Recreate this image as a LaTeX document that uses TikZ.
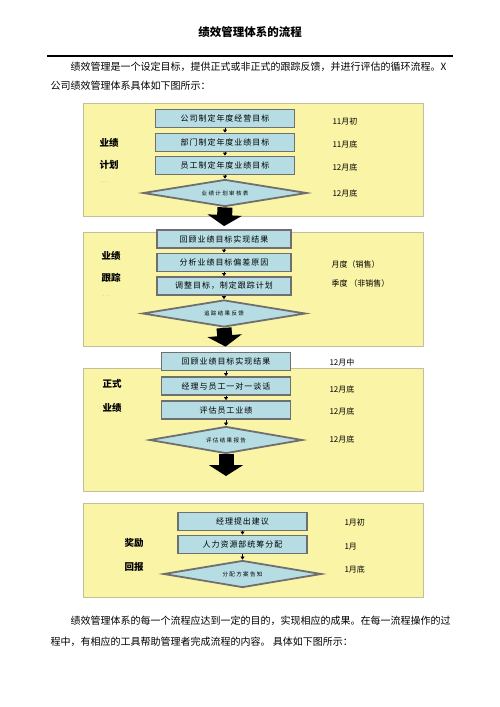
\documentclass[tikz,border=0pt]{standalone}
\usepackage{fontspec}
\setmainfont{Noto Sans CJK SC}
\newfontfamily\boxfont[LetterSpace=12]{Noto Sans CJK SC}
\newfontfamily\tagfont[LetterSpace=25]{Noto Sans CJK SC}
\usetikzlibrary{shapes.geometric,arrows.meta}
\definecolor{panelyellow}{HTML}{FAF4A6}
\definecolor{panelline}{HTML}{C2C09A}
\definecolor{stepblue}{HTML}{B6DDE4}
\definecolor{stepline}{HTML}{6F6F6F}

\begin{document}
\begin{tikzpicture}[x=1pt,y=-1pt,
	panel/.style={fill=panelyellow,draw=panelline,line width=1pt},
	stepbox/.style={rectangle,fill=stepblue,draw=stepline,line width=1.8pt,minimum width=#1,minimum height=18pt,inner sep=0pt,font=\boxfont\fontsize{8}{9}\selectfont},
	checkbox/.style={diamond,aspect=6,fill=stepblue,draw=stepline,line width=1.8pt,inner sep=0pt,minimum width=#1,minimum height=27pt,font=\tagfont\fontsize{5.5}{6}\selectfont},
	note/.style={anchor=west,font=\fontsize{8}{9}\selectfont},
	stage/.style={anchor=west,font=\fontsize{9.5}{10}\selectfont\bfseries},
	dots/.style={anchor=west,text=gray,font=\tiny},
	line/.style={anchor=west,font=\fontsize{10}{10}\selectfont},
	flow/.style={line width=0.7pt,-{Triangle[length=3pt,width=4pt]}},
	bigarrow/.style={line width=15pt,-{Triangle[length=11pt,width=34pt]}}]

	\useasboundingbox (0,0) rectangle (500,707);
	\fill[white] (0,0) rectangle (500,707);

	% title and text above
	\node[font=\fontsize{11.5}{12}\selectfont\bfseries] (title) at (250,32) {绩效管理体系的流程};
	\draw[line width=1.5pt] (47,56) -- (453,56);
	\node[line] (p1) at (67,67) {绩效管理是一个设定目标，提供正式或非正式的跟踪反馈，并进行评估的循环流程。X};
	\node[line] (p2) at (47,86) {公司绩效管理体系具体如下图所示：};

	% panels
	\draw[panel] (83,103) rectangle (423,216);
	\draw[panel] (83,232) rectangle (423,346);
	\draw[panel] (83,368) rectangle (423,491);
	\draw[panel] (83,503) rectangle (423,597);

	% plan
	\node[stepbox=139pt] (a1) at (225,118.5) {公司制定年度经营目标};
	\node[stepbox=139pt] (a2) at (225,142.5) {部门制定年度业绩目标};
	\node[stepbox=139pt] (a3) at (225,165.5) {员工制定年度业绩目标};
	\node[checkbox=164pt] (a4) at (225,193) {业绩计划审核表};
	\node[note] (ta1) at (329,121) {11月初};
	\node[note] (ta2) at (329,144) {11月底};
	\node[note] (ta3) at (329,167) {12月底};
	\node[note] (ta4) at (329,193) {12月底};
	\node[stage] (sa1) at (96,143) {业绩};
	\node[stage] (sa2) at (96,165) {计划};
	\node[dots] (da) at (97,182) {. . .};

	% tracking
	\node[stepbox=134pt] (b1) at (224,239) {回顾业绩目标实现结果};
	\node[stepbox=134pt] (b2) at (224,262.5) {分析业绩目标偏差原因};
	\node[stepbox=134pt] (b3) at (224,286) {调整目标，制定跟踪计划};
	\node[checkbox=163pt] (b4) at (224,313.5) {追踪结果反馈};
	\node[note] (tb1) at (328,264) {月度（销售）};
	\node[note] (tb2) at (328,283) {季度 （非销售）};
	\node[stage] (sb1) at (98,256) {业绩};
	\node[stage] (sb2) at (98,278) {跟踪};
	\node[dots] (db) at (99,296) {. . .};

	% review
	\node[stepbox=129pt] (c1) at (226,361.5) {回顾业绩目标实现结果};
	\node[stepbox=129pt] (c2) at (226,386) {经理与员工一对一谈话};
	\node[stepbox=129pt] (c3) at (226,410) {评估员工业绩};
	\node[checkbox=153pt] (c4) at (226,440) {评估结果报告};
	\node[note] (tc1) at (326,362) {12月中};
	\node[note] (tc2) at (326,389) {12月底};
	\node[note] (tc3) at (326,411) {12月底};
	\node[note] (tc4) at (326,439) {12月底};
	\node[stage] (sc1) at (99,384) {正式};
	\node[stage] (sc2) at (99,408) {业绩};
	\coordinate (c5) at (226,476);

	% reward
	\node[stepbox=129pt] (d1) at (242.5,521.5) {经理提出建议};
	\node[stepbox=129pt] (d2) at (242.5,544.5) {人力资源部统筹分配};
	\node[checkbox=158pt] (d3) at (242.5,574) {分配方案告知};
	\node[note] (td1) at (341,522) {1月初};
	\node[note] (td2) at (341,547) {1月};
	\node[note] (td3) at (341,569) {1月底};
	\node[stage] (sd1) at (121,543) {奖励};
	\node[stage] (sd2) at (121,567) {回报};

	\draw[flow] (a1) -- (a2);
	\draw[flow] (a2) -- (a3);
	\draw[flow] (a3) -- (a4);
	\draw[flow] (b1) -- (b2);
	\draw[flow] (b2) -- (b3);
	\draw[flow] (b3) -- (b4);
	\draw[flow] (c1) -- (c2);
	\draw[flow] (c2) -- (c3);
	\draw[flow] (c3) -- (c4);
	\draw[flow] (d1) -- (d2);
	\draw[flow] (d2) -- (d3);

	\draw[bigarrow,shorten >=3pt] (a4.south) -- (b1.north);
	\draw[bigarrow,shorten >=5pt] (b4.south) -- (c1.north);
	\draw[bigarrow] (c4.south) -- (c5);

	% text below
	\node[line] (q1) at (67,621) {绩效管理体系的每一个流程应达到一定的目的，实现相应的成果。在每一流程操作的过};
	\node[line] (q2) at (47,642) {程中，有相应的工具帮助管理者完成流程的内容。 具体如下图所示：};
\end{tikzpicture}
\end{document}
